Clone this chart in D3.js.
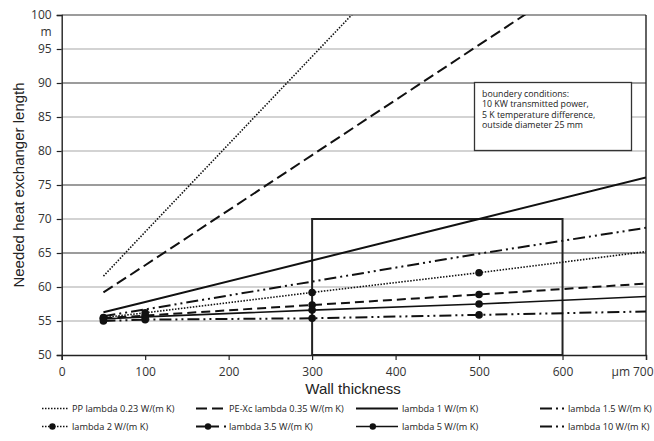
<!DOCTYPE html>
<html>
<head>
<meta charset="utf-8">
<script src="https://cdn.jsdelivr.net/npm/d3@7"></script>
<style>
  body { margin: 0; background: #fff; }
  svg { display: block; }
</style>
</head>
<body>
<svg id="chart" width="654" height="441"></svg>
<script>
// ---- data ----
const xTicks = [0, 100, 200, 300, 400, 500, 600, 700];
const yTicks = [50, 55, 60, 65, 70, 75, 80, 85, 90, 95, 100];
const darkGrid = [65, 75, 90, 100];
const xVals = [50, 100, 300, 500, 700];
const markerX = [50, 100, 300, 500];
const seriesNames = ["PP lambda 0.23 W/(m K)", "PE-Xc lambda 0.35 W/(m K)", "lambda 1 W/(m K)", "lambda 1.5 W/(m K)",
                     "lambda 2 W/(m K)", "lambda 3.5 W/(m K)", "lambda 5 W/(m K)", "lambda 10 W/(m K)"];
const ppVals   = [61.6, 68.1, 93.9, 119.7, 145.5];
const pexcVals = [59.2, 63.2, 79.4, 95.6, 111.8];
const l1Vals   = [56.3, 57.8, 63.9, 70.0, 76.1];
const l15Vals  = [55.7, 56.7, 60.8, 64.9, 68.7];
const l2Vals   = [55.5, 56.2, 59.2, 62.1, 65.2];
const l35Vals  = [55.4, 55.8, 57.35, 58.9, 60.5];
const l5Vals   = [55.3, 55.6, 56.6, 57.5, 58.6];
const l10Vals  = [55.0, 55.2, 55.4, 55.9, 56.4];
const boxRange = { x: [300, 600], y: [50, 70] };
const noteLines = ["boundery conditions:", "10 KW transmitted power,", "5 K temperature difference,", "outside diameter 25 mm"];

// ---- styles ----
const styles = [
  { dash: "1.5,1.5", w: 1.6, marker: false, legendMarker: false },
  { dash: "11,5", w: 2, marker: false, legendMarker: false },
  { dash: null, w: 2, marker: false, legendMarker: false },
  { dash: "12,4,2,4,2,4", w: 2, marker: false, legendMarker: false },
  { dash: "1.5,1.5", w: 1.6, marker: true, legendMarker: true },
  { dash: "9,5", w: 2, marker: true, legendMarker: true },
  { dash: null, w: 1.6, marker: true, legendMarker: true },
  { dash: "12,4,2,4,2,4", w: 2, marker: true, legendMarker: false }
];
const allVals = [ppVals, pexcVals, l1Vals, l15Vals, l2Vals, l35Vals, l5Vals, l10Vals];

const svg = d3.select("#chart");
const x = d3.scaleLinear().domain([0, 700]).range([61.7, 646]);
const y = d3.scaleLinear().domain([50, 100]).range([355, 15]);
const font = "'Liberation Sans', Arial, sans-serif";
const font2 = "'Open Sans', 'DejaVu Sans', sans-serif";

svg.append("defs").append("clipPath").attr("id", "clip")
  .append("rect").attr("x", x(0)).attr("y", y(100)).attr("width", x(700) - x(0)).attr("height", y(50) - y(100));

// gridlines
svg.append("g").selectAll("line").data(yTicks.filter(d => d > 50)).join("line")
  .attr("x1", x(0)).attr("x2", x(700))
  .attr("y1", d => y(d)).attr("y2", d => y(d))
  .attr("stroke", d => darkGrid.includes(d) ? "#3a3a3a" : "#c4c4c4")
  .attr("stroke-width", d => darkGrid.includes(d) ? 1.1 : 1.6);

// right border
svg.append("line").attr("x1", x(700)).attr("x2", x(700)).attr("y1", y(100)).attr("y2", y(50))
  .attr("stroke", "#222").attr("stroke-width", 1.4);

// axes
const yAxis = d3.axisLeft(y).tickValues(yTicks).tickSize(5).tickFormat(d3.format("d"));
const gy = svg.append("g").attr("transform", `translate(${x(0)},0)`).call(yAxis);
gy.select(".domain").attr("stroke", "#222").attr("stroke-width", 1.4);
gy.selectAll(".tick line").attr("stroke", "#222").attr("stroke-width", 1.2);
gy.selectAll(".tick text").attr("font-family", font2).attr("font-size", 12).attr("fill", "#333").attr("x", -10);

const xAxis = d3.axisBottom(x).tickValues(xTicks).tickSize(5).tickFormat(d3.format("d"));
const gx = svg.append("g").attr("transform", `translate(0,${y(50)})`).call(xAxis);
gx.select(".domain").attr("stroke", "#222").attr("stroke-width", 1.4);
gx.selectAll(".tick line").attr("stroke", "#222").attr("stroke-width", 1.2);
gx.selectAll(".tick text").attr("font-family", font2).attr("font-size", 12).attr("fill", "#333").attr("y", 12);
// keep the last label inside the picture
gx.selectAll(".tick text").filter(d => d === 700).attr("text-anchor", "end").attr("x", 653 - x(700));

// unit labels
svg.append("text").attr("x", x(0) - 10).attr("y", y(100) + 21).attr("text-anchor", "end")
  .attr("font-family", font2).attr("font-size", 12).attr("fill", "#333").text("m");
svg.append("text").attr("x", 630).attr("y", y(50) + 21).attr("text-anchor", "end")
  .attr("font-family", font2).attr("font-size", 12).attr("fill", "#333").text("µm");

// axis titles
svg.append("text").attr("x", 353).attr("y", 394).attr("text-anchor", "middle")
  .attr("font-family", font).attr("font-size", 15).attr("fill", "#222").text("Wall thickness");
svg.append("text").attr("transform", `translate(24,${(y(50) + y(100)) / 2}) rotate(-90)`).attr("text-anchor", "middle")
  .attr("font-family", font).attr("font-size", 15).attr("fill", "#222").text("Needed heat exchanger length");

// highlight rectangle
svg.append("rect")
  .attr("x", x(boxRange.x[0])).attr("y", y(boxRange.y[1]))
  .attr("width", x(boxRange.x[1]) - x(boxRange.x[0])).attr("height", y(boxRange.y[0]) - y(boxRange.y[1]))
  .attr("fill", "none").attr("stroke", "#222").attr("stroke-width", 2);

// series
const plot = svg.append("g").attr("clip-path", "url(#clip)");
const line = d3.line().x(d => x(d[0])).y(d => y(d[1]));
allVals.forEach((vals, i) => {
  const st = styles[i];
  const pts = xVals.map((xv, j) => [xv, vals[j]]);
  plot.append("path").attr("d", line(pts)).attr("fill", "none")
    .attr("stroke", "#111").attr("stroke-width", st.w)
    .attr("stroke-dasharray", st.dash);
  if (st.marker) {
    plot.selectAll(null).data(pts.filter(p => markerX.includes(p[0]))).join("circle")
      .attr("cx", d => x(d[0])).attr("cy", d => y(d[1])).attr("r", 3.8).attr("fill", "#111");
  }
});

// note box
const nb = svg.append("g");
nb.append("rect").attr("x", 474.5).attr("y", 82.5).attr("width", 157).attr("height", 68)
  .attr("fill", "#fff").attr("stroke", "#333").attr("stroke-width", 1.3);
nb.selectAll("text").data(noteLines).join("text")
  .attr("x", 482).attr("y", (d, i) => 96.5 + i * 10.6)
  .attr("font-family", font2).attr("font-size", 8.8).attr("fill", "#222").text(d => d);

// legend
const legX = [42, 196, 356, 540];
const legW = [26, 30, 42, 24];
const legT = [72, 229, 402, 568];
const legY = [412, 430];
const lg = svg.append("g");
seriesNames.forEach((name, i) => {
  const col = i % 4, row = Math.floor(i / 4);
  const st = styles[i];
  const x0 = legX[col], yy = legY[row] - 3.5;
  lg.append("line").attr("x1", x0).attr("x2", x0 + legW[col]).attr("y1", yy).attr("y2", yy)
    .attr("stroke", "#111").attr("stroke-width", st.w).attr("stroke-dasharray", st.dash);
  if (st.legendMarker) {
    lg.append("circle").attr("cx", x0 + legW[col] * 0.4).attr("cy", yy).attr("r", 3.2).attr("fill", "#111");
  }
  lg.append("text").attr("x", legT[col]).attr("y", legY[row])
    .attr("font-family", font2).attr("font-size", 9.2).attr("fill", "#222").text(name);
});
</script>
</body>
</html>
